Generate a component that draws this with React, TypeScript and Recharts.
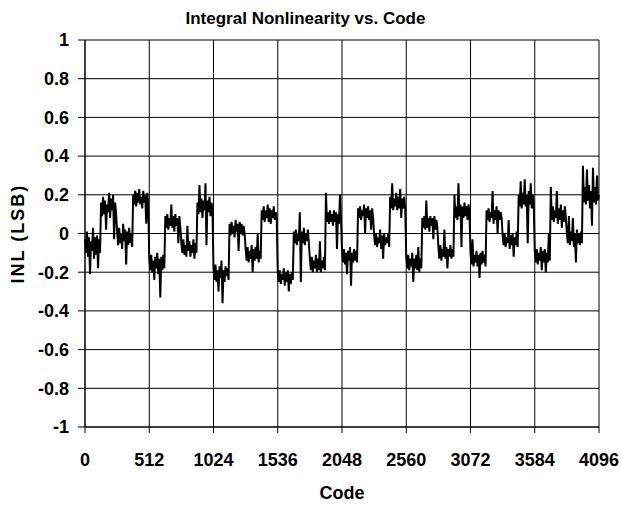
import { CartesianGrid, Line, LineChart, XAxis, YAxis } from "recharts"

// INL readings, one value every 8 codes, grouped per 512-code block
const block0 = [
  -0.03, -0.1, 0.01, -0.12, -0.02, -0.21, -0.04, -0.09, 0.03, -0.13, -0.02, -0.11, -0.01, -0.18, -0.03, -0.1,
  0.16, 0.09, 0.19, 0.1, 0.17, 0.02, 0.15, 0.11, 0.21, 0.08, 0.18, 0.12, 0.2, -0.03, 0.16, 0.1,
  0.01, -0.06, 0.03, -0.05, 0.0, -0.08, 0.05, -0.04, 0.02, -0.16, 0.01, -0.06, 0.03, -0.05, 0.0, -0.07,
  0.2, 0.15, 0.22, 0.14, 0.21, 0.16, 0.23, 0.15, 0.19, 0.13, 0.22, 0.16, 0.2, 0.05, 0.21, 0.15,
]
const block1 = [
  -0.13, -0.19, -0.11, -0.2, -0.14, -0.24, -0.12, -0.18, -0.1, -0.21, -0.13, -0.33, -0.12, -0.19, -0.11, -0.18,
  0.09, 0.03, 0.1, 0.02, 0.08, 0.04, 0.15, 0.03, 0.09, 0.01, 0.1, 0.04, 0.08, -0.05, 0.09, 0.03,
  -0.05, -0.1, -0.03, -0.11, -0.06, -0.12, 0.04, -0.09, -0.04, -0.12, -0.06, -0.1, -0.03, -0.13, -0.05, -0.1,
  0.16, 0.1, 0.25, 0.11, 0.18, 0.08, 0.17, 0.12, 0.26, -0.06, 0.17, 0.11, 0.19, 0.09, 0.16, 0.12,
]
const block2 = [
  -0.18, -0.24, -0.16, -0.25, -0.19, -0.3, -0.17, -0.23, -0.14, -0.36, -0.19, -0.25, -0.17, -0.22, -0.18, -0.24,
  0.05, -0.01, 0.06, 0.0, 0.04, -0.02, 0.07, 0.01, 0.05, -0.09, 0.06, 0.0, 0.05, -0.01, 0.04, 0.0,
  -0.08, -0.14, -0.07, -0.15, -0.09, -0.13, -0.06, -0.2, -0.08, -0.14, -0.07, -0.13, 0.0, -0.15, -0.09, -0.13,
  0.12, 0.07, 0.14, 0.06, 0.12, 0.08, 0.15, 0.06, 0.13, 0.05, 0.12, 0.08, 0.14, 0.07, 0.11, 0.07,
]
const block3 = [
  -0.2, -0.25, -0.19, -0.26, -0.21, -0.24, -0.18, -0.27, -0.2, -0.25, -0.19, -0.3, -0.21, -0.26, -0.2, -0.24,
  0.01, -0.05, 0.02, -0.06, 0.0, -0.04, 0.11, -0.25, 0.01, -0.05, 0.03, -0.06, 0.0, -0.04, 0.02, -0.05,
  -0.13, -0.19, -0.12, -0.2, -0.14, -0.18, -0.11, -0.2, -0.13, -0.19, -0.04, -0.2, -0.14, -0.18, -0.12, -0.19,
  0.21, 0.06, 0.11, 0.05, 0.12, 0.06, 0.1, 0.04, 0.12, 0.06, 0.11, -0.08, 0.1, 0.05, 0.2, 0.07,
]
const block4 = [
  -0.09, -0.15, -0.08, -0.16, -0.1, -0.21, -0.09, -0.14, -0.07, -0.27, -0.1, -0.15, -0.08, -0.14, -0.09, -0.15,
  0.13, 0.08, 0.14, 0.07, 0.12, 0.09, 0.15, 0.0, 0.13, 0.08, 0.14, 0.07, 0.12, 0.02, 0.13, 0.08,
  -0.01, -0.06, 0.0, -0.07, -0.02, -0.05, 0.02, -0.08, -0.01, -0.13, 0.0, -0.06, -0.02, -0.05, 0.0, -0.07,
  0.19, 0.13, 0.26, 0.12, 0.18, 0.14, 0.21, 0.12, 0.19, 0.13, 0.23, 0.08, 0.18, 0.13, 0.19, 0.12,
]
const block5 = [
  -0.12, -0.18, -0.11, -0.19, -0.13, -0.17, -0.1, -0.25, -0.13, -0.18, -0.11, -0.19, -0.07, -0.2, -0.13, -0.18,
  0.08, 0.03, 0.09, 0.02, 0.17, 0.03, 0.08, 0.01, 0.09, 0.04, 0.08, -0.03, 0.09, 0.02, 0.07, 0.03,
  -0.07, -0.13, -0.06, -0.14, -0.08, -0.12, 0.02, -0.13, -0.07, -0.18, -0.08, -0.12, -0.06, -0.13, -0.08, -0.12,
  0.2, 0.08, 0.14, 0.07, 0.26, 0.09, 0.15, -0.07, 0.14, 0.08, 0.16, 0.09, 0.14, 0.07, 0.15, 0.1,
]
const block6 = [
  -0.1, -0.16, -0.03, -0.17, -0.11, -0.15, -0.09, -0.17, -0.11, -0.23, -0.1, -0.16, -0.09, -0.15, -0.11, -0.17,
  0.12, 0.07, 0.13, 0.06, 0.11, 0.08, 0.22, 0.05, 0.12, 0.07, 0.14, 0.0, 0.12, 0.07, 0.11, 0.08,
  -0.01, -0.06, 0.0, -0.07, -0.02, -0.05, 0.07, -0.08, -0.01, -0.06, 0.0, -0.12, -0.02, -0.06, 0.01, -0.07,
  0.2, 0.14, 0.27, 0.13, 0.21, 0.15, 0.28, 0.14, 0.2, -0.05, 0.22, 0.15, 0.26, 0.13, 0.2, 0.15,
]
const block7 = [
  -0.09, -0.15, -0.08, -0.16, -0.1, -0.14, -0.07, -0.19, -0.09, -0.15, -0.08, -0.2, -0.1, -0.15, 0.0, -0.14,
  0.24, 0.07, 0.14, 0.06, 0.12, 0.08, 0.22, 0.05, 0.13, 0.07, 0.15, 0.03, 0.12, 0.06, 0.14, 0.08,
  0.0, -0.05, 0.09, -0.06, 0.01, -0.04, 0.08, -0.07, 0.0, -0.15, 0.02, -0.05, 0.0, -0.06, 0.01, -0.05,
  0.35, 0.16, 0.24, 0.15, 0.33, 0.17, 0.25, 0.13, 0.22, 0.04, 0.34, 0.16, 0.24, 0.15, 0.3, 0.17,
]
const lastValue = [0.2]

const codeStep = 8
const xTicks = [0, 512, 1024, 1536, 2048, 2560, 3072, 3584, 4096]
const yTicks = [-1, -0.8, -0.6, -0.4, -0.2, 0, 0.2, 0.4, 0.6, 0.8, 1]

const inl = [...block0, ...block1, ...block2, ...block3, ...block4, ...block5, ...block6, ...block7, ...lastValue]
const data = inl.map((v, i) => ({ code: i * codeStep, inl: v }))

const font = "'Liberation Sans', Arial, Helvetica, sans-serif"

const formatY = (v: number) => String(Math.round(v * 10) / 10)

const YLabel = () => (
  <text
    transform="translate(23.5, 233.6) rotate(-90)"
    textAnchor="middle"
    fontFamily={font}
    fontWeight="bold"
    fontSize={18}
    letterSpacing={2}
    fill="#000"
  >
    INL (LSB)
  </text>
)

export default function App() {
  return (
    <div style={{ position: "absolute", left: 0, top: 0, width: 621, height: 507, background: "#fff" }}>
      <div
        style={{
          position: "absolute",
          left: 0,
          top: 10,
          width: 611,
          textAlign: "center",
          fontFamily: font,
          fontWeight: "bold",
          fontSize: 17,
          lineHeight: "17px",
        }}
      >
        Integral Nonlinearity vs. Code
      </div>
      <LineChart width={621} height={507} data={data} margin={{ top: 40, right: 22, left: 0, bottom: 0 }}>
        <CartesianGrid stroke="#000" strokeWidth={1} />
        <XAxis
          dataKey="code"
          type="number"
          domain={[0, 4096]}
          ticks={xTicks}
          interval={0}
          height={80}
          tickSize={6}
          tickMargin={20}
          stroke="#000"
          tick={{ fill: "#000", fontFamily: font, fontWeight: "bold", fontSize: 18 }}
          label={{
            value: "Code",
            position: "insideBottom",
            offset: 8,
            fill: "#000",
            fontFamily: font,
            fontWeight: "bold",
            fontSize: 18,
          }}
        />
        <YAxis
          type="number"
          domain={[-1, 1]}
          ticks={yTicks}
          interval={0}
          width={85}
          tickSize={7}
          tickMargin={9}
          stroke="#000"
          tickFormatter={formatY}
          tick={{ fill: "#000", fontFamily: font, fontWeight: "bold", fontSize: 18 }}
          label={{ content: () => <YLabel /> }}
        />
        <Line
          type="linear"
          dataKey="inl"
          stroke="#000"
          strokeWidth={2}
          dot={false}
          isAnimationActive={false}
        />
      </LineChart>
    </div>
  )
}
